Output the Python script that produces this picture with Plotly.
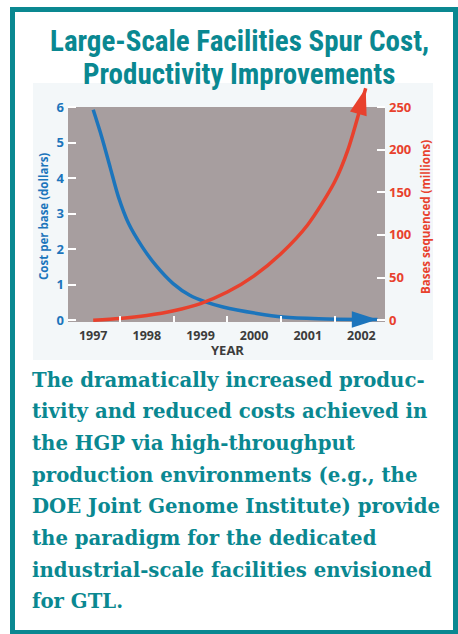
import plotly.graph_objects as go

# ---------------- data ----------------
blue_years = [1997.0, 1997.16, 1997.32, 1997.47, 1997.66, 1997.92, 1998.18, 1998.49, 1998.8,
              1999.08, 1999.42, 2000.05, 2000.54, 2001.2, 2002.0, 2002.3]
blue_cost = [5.92, 5.15, 4.28, 3.47, 2.72, 2.05, 1.52, 1.03, 0.70,
             0.52, 0.37, 0.19, 0.09, 0.04, 0.02, 0.02]

red_years = [1997.0, 1997.5, 1998.0, 1998.5, 1999.0, 1999.5, 2000.0, 2000.5, 2001.0,
             2001.5, 2001.75, 2002.08]
red_bases = [0, 2, 5.5, 11, 19.5, 33, 52, 78, 112, 162, 200, 272]

year_ticks = [1997, 1998, 1999, 2000, 2001, 2002]
half_year_ticks = [1997.5, 1998.5, 1999.5, 2000.5, 2001.5]
cost_ticks = [0, 1, 2, 3, 4, 5, 6]
bases_ticks = [0, 50, 100, 150, 200, 250]

title_lines = ["Large-Scale Facilities Spur Cost,", "Productivity Improvements"]
caption_lines = [
    "The dramatically increased produc-",
    "tivity and reduced costs achieved in",
    "the HGP via high-throughput",
    "production environments (e.g., the",
    "DOE Joint Genome Institute) provide",
    "the paradigm for the dedicated",
    "industrial-scale facilities envisioned",
    "for GTL.",
]

# ---------------- layout geometry ----------------
W, H = 458, 634
ML, MR, MT, MB = 68, 73, 80, 312
PW, PH = W - ML - MR, H - MT - MB
BOTTOM_PX = H - MB
ZERO_PX, SIX_PX = 320.2, 107.0
UNIT = (ZERO_PX - SIX_PX) / 6.0
Y_TOP = (ZERO_PX - MT) / UNIT
Y_BOT = -(BOTTOM_PX - ZERO_PX) / UNIT
SCALE2 = 250 / 6.0

TEAL = "rgb(10,136,145)"
BLUE = "rgb(28,117,188)"
RED = "rgb(232,65,45)"
GRAY = "rgb(167,158,159)"
DARK = "rgb(60,60,60)"


def xp(px):
    return (px - ML) / PW


def yp(py):
    return (BOTTOM_PX - py) / PH


fig = go.Figure()
fig.add_trace(go.Scatter(
    x=blue_years, y=blue_cost, mode="lines+markers",
    line=dict(color=BLUE, width=3.5, shape="spline", smoothing=0.8),
    marker=dict(symbol="arrow", angleref="previous", color=BLUE, opacity=1,
                line=dict(width=0),
                size=[0] * (len(blue_years) - 1) + [27]),
    cliponaxis=False, hoverinfo="skip", showlegend=False, yaxis="y"))
fig.add_trace(go.Scatter(
    x=red_years, y=red_bases, mode="lines+markers",
    line=dict(color=RED, width=3.5, shape="spline", smoothing=0.8),
    marker=dict(symbol="arrow", angleref="previous", color=RED, opacity=1,
                line=dict(width=0),
                size=[0] * (len(red_years) - 1) + [28]),
    cliponaxis=False, hoverinfo="skip", showlegend=False, yaxis="y2"))

tickfont_l = dict(family="Open Sans", size=13, color=BLUE, weight="bold")
tickfont_r = dict(family="Open Sans", size=13, color=RED, weight="bold")

fig.update_layout(
    width=W, height=H,
    margin=dict(l=ML, r=MR, t=MT, b=MB, pad=0),
    paper_bgcolor="white", plot_bgcolor="rgba(0,0,0,0)",
    xaxis=dict(range=[1996.53, 2002.44], tickvals=year_ticks, ticks="",
               showgrid=False, zeroline=False, showline=False, ticklabelstandoff=4,
               tickfont=dict(family="Open Sans", size=12.5, color=DARK, weight="bold"),
               minor=dict(tickvals=half_year_ticks, ticks="inside", ticklen=6,
                          tickcolor="white", tickwidth=1.5, showgrid=False)),
    yaxis=dict(range=[Y_BOT, Y_TOP], tickvals=cost_ticks, ticks="inside", ticklen=8,
               tickcolor="white", tickwidth=1.5, showgrid=False, zeroline=False,
               showline=False, tickfont=tickfont_l, ticklabelstandoff=3),
    yaxis2=dict(range=[Y_BOT * SCALE2, Y_TOP * SCALE2], tickvals=bases_ticks, overlaying="y",
                side="right", ticks="inside", ticklen=8, tickcolor="white",
                tickwidth=1.5, showgrid=False, zeroline=False, showline=False,
                tickfont=tickfont_r, ticklabelstandoff=3),
)

shapes = [
    dict(type="rect", xref="paper", yref="paper", x0=xp(33), x1=xp(433), y0=yp(360), y1=yp(83),
         fillcolor="rgb(243,247,249)", line=dict(width=0), layer="below"),
    dict(type="rect", xref="paper", yref="paper", x0=0, x1=1, y0=0, y1=yp(SIX_PX),
         fillcolor=GRAY, line=dict(width=0), layer="below"),
    dict(type="rect", xref="paper", yref="paper", x0=xp(12.5), x1=xp(455.5), y0=yp(632.5), y1=yp(9.5),
         fillcolor="rgba(0,0,0,0)", line=dict(color=TEAL, width=5), layer="above"),
]
fig.update_layout(shapes=shapes)

ann = []
for i, t in enumerate(title_lines):
    ann.append(dict(text=t, x=xp(239), y=yp(41 + 33 * i), xref="paper", yref="paper",
                    xanchor="center", yanchor="middle", showarrow=False,
                    font=dict(family="Liberation Sans Narrow, Roboto Condensed, Roboto", size=29,
                              color=TEAL, weight="bold")))
for i, t in enumerate(caption_lines):
    ann.append(dict(text=t, x=xp(30), y=yp(380 + 31.7 * i), xref="paper", yref="paper",
                    xanchor="left", yanchor="middle", showarrow=False,
                    font=dict(family="DejaVu Serif", size=19.7, color=TEAL, weight="bold")))
ann.append(dict(text="Cost per base (dollars)", x=xp(43), y=yp(217), xref="paper", yref="paper",
                textangle=-90, showarrow=False, xanchor="center", yanchor="middle",
                font=dict(family="Open Sans", size=11.5, color=BLUE, weight="bold")))
ann.append(dict(text="Bases sequenced (millions)", x=xp(425), y=yp(217), xref="paper", yref="paper",
                textangle=-90, showarrow=False, xanchor="center", yanchor="middle",
                font=dict(family="Open Sans", size=11.5, color=RED, weight="bold")))
ann.append(dict(text="YEAR", x=xp(227), y=yp(350), xref="paper", yref="paper",
                showarrow=False, xanchor="center", yanchor="middle",
                font=dict(family="Open Sans", size=13, color=DARK, weight="bold")))
fig.update_layout(annotations=ann)

fig.write_html("out.html", config={"displayModeBar": False},
               post_script="document.body.style.margin='0px';")
